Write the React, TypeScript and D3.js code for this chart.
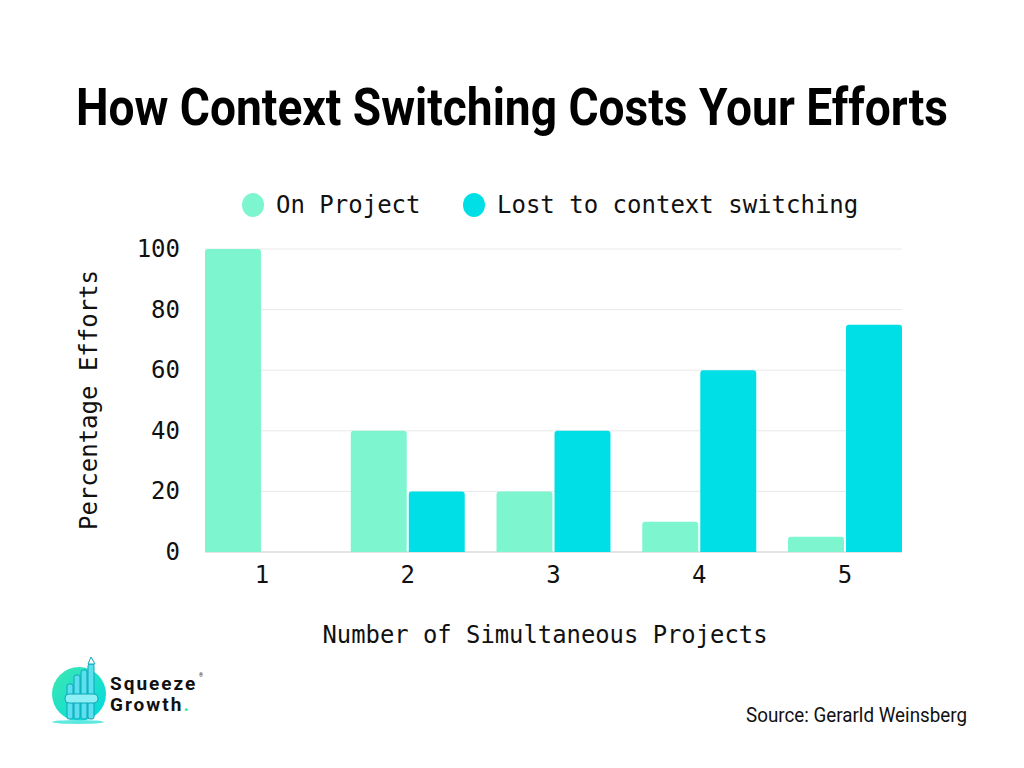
import React, { useLayoutEffect, useRef, useState } from "react";
import * as d3 from "d3";

const categories = ["1", "2", "3", "4", "5"];
const onProject = [100, 40, 20, 10, 5];
const lostToSwitching = [0, 20, 40, 60, 75];
const seriesNames = ["On Project", "Lost to context switching"];
const yTicks = [0, 20, 40, 60, 80, 100];

const GREEN = "#7df5cf";
const CYAN = "#00dfe5";
const MONO = "'DejaVu Sans Mono', 'Liberation Mono', monospace";
const SANS = "Roboto, 'Noto Sans', sans-serif";
const TITLE = "How Context Switching Costs Your Efforts";
const TITLE_WIDTH = 872;

function topRoundedRect(x: number, y: number, w: number, h: number, r: number) {
  if (h <= 0) return "";
  const rr = Math.min(r, h, w / 2);
  const p = d3.path();
  p.moveTo(x, y + h);
  p.lineTo(x, y + rr);
  p.arcTo(x, y, x + rr, y, rr);
  p.lineTo(x + w - rr, y);
  p.arcTo(x + w, y, x + w, y + rr, rr);
  p.lineTo(x + w, y + h);
  p.closePath();
  return p.toString();
}

export default function App() {
  const width = 1024;
  const height = 768;
  const left = 205;
  const right = 902;
  const top = 249;
  const bottom = 552;

  // Condense the title horizontally so it spans a fixed width
  const titleRef = useRef<SVGTextElement>(null);
  const [titleScale, setTitleScale] = useState(0.85);
  useLayoutEffect(() => {
    if (titleRef.current) {
      const w = titleRef.current.getComputedTextLength();
      if (w > 0) setTitleScale(TITLE_WIDTH / w);
    }
  }, []);

  const x0 = d3.scaleBand<string>().domain(categories).range([left, right]).paddingInner(0.218).paddingOuter(0);
  const x1 = d3.scaleBand<number>().domain([0, 1]).range([0, x0.bandwidth()]).paddingInner(0.035);
  const y = d3.scaleLinear().domain([0, 100]).range([bottom, top]);

  const series = [onProject, lostToSwitching];
  const colors = [GREEN, CYAN];

  return (
    <div style={{ margin: -8 }}>
      <svg width={width} height={height} style={{ display: "block", background: "#fff" }}>
        <defs>
          <linearGradient id="logoGrad" x1="0" y1="0" x2="1" y2="1">
            <stop offset="0%" stopColor="#3ee8b0" />
            <stop offset="100%" stopColor="#00d9e0" />
          </linearGradient>
        </defs>

        <g transform={`translate(512,125) scale(${titleScale},1)`}>
          <text
            ref={titleRef}
            x={0}
            y={0}
            textAnchor="middle"
            fontFamily={SANS}
            fontWeight={700}
            fontSize={52}
            fill="#000"
          >
            {TITLE}
          </text>
        </g>

        {/* legend */}
        {seriesNames.map((name, i) => {
          const cx = i === 0 ? 253 : 474;
          return (
            <g key={name}>
              <ellipse cx={cx} cy={205} rx={11} ry={12} fill={colors[i]} />
              <text x={cx + 23} y={213} fontFamily={MONO} fontSize={24} fill="#111">
                {name}
              </text>
            </g>
          );
        })}

        {/* gridlines */}
        {yTicks.map((t) => (
          <line
            key={t}
            x1={left}
            x2={right}
            y1={y(t)}
            y2={y(t)}
            stroke={t === 0 ? "#c8c8c8" : "#e8e8e8"}
            strokeWidth={1}
          />
        ))}

        {/* y tick labels */}
        {yTicks.map((t) => (
          <text
            key={"l" + t}
            x={180}
            y={y(t) + 8}
            textAnchor="end"
            fontFamily={MONO}
            fontSize={24}
            fill="#111"
          >
            {t}
          </text>
        ))}

        {/* bars */}
        {categories.map((c, ci) => (
          <g key={c}>
            {series.map((s, si) => {
              const bx = (x0(c) ?? 0) + (x1(si) ?? 0);
              const bw = x1.bandwidth();
              const by = y(s[ci]);
              return <path key={si} d={topRoundedRect(bx, by, bw, bottom - by, 3)} fill={colors[si]} />;
            })}
          </g>
        ))}

        {/* x tick labels */}
        {categories.map((c) => (
          <text
            key={"x" + c}
            x={(x0(c) ?? 0) + x0.bandwidth() / 2}
            y={583}
            textAnchor="middle"
            fontFamily={MONO}
            fontSize={24}
            fill="#111"
          >
            {c}
          </text>
        ))}

        {/* axis titles */}
        <text
          x={545}
          y={643}
          textAnchor="middle"
          fontFamily={MONO}
          fontSize={24}
          textLength={445}
          lengthAdjust="spacingAndGlyphs"
          fill="#111"
        >
          Number of Simultaneous Projects
        </text>
        <text
          transform={`translate(97, ${400}) rotate(-90)`}
          textAnchor="middle"
          fontFamily={MONO}
          fontSize={24}
          fill="#111"
        >
          Percentage Efforts
        </text>

        {/* source */}
        <text
          x={967}
          y={722}
          textAnchor="end"
          fontFamily={SANS}
          fontSize={21}
          textLength={221}
          lengthAdjust="spacingAndGlyphs"
          fill="#111"
        >
          Source: Gerarld Weinsberg
        </text>

        {/* brand mark */}
        <g>
          <circle cx={79} cy={694} r={27} fill="url(#logoGrad)" />
          <ellipse cx={78} cy={722} rx={26} ry={2} fill="#5ee8e0" />
          <g fill="#5ce0f0" stroke="#0aa8b8" strokeWidth={1}>
            <rect x={67} y={684} width={6} height={35} rx={2} />
            <rect x={74} y={675} width={6} height={44} rx={2} />
            <rect x={81} y={670} width={6} height={49} rx={2} />
            <rect x={88} y={664} width={6} height={55} rx={2} />
            <rect x={65} y={694} width={33} height={9} rx={4} fill="#8ef0f5" />
          </g>
          <path d="M88 664 L91 657 L95 664 Z" fill="#fff" stroke="#0aa8b8" strokeWidth={1} />
          <text x={110} y={690} fontFamily={SANS} fontWeight={700} fontSize={19} fill="#111" letterSpacing={2}>
            Squeeze
          </text>
          <text x={199} y={677} fontFamily={SANS} fontSize={5} fill="#111">®</text>
          <text x={110} y={711} fontFamily={SANS} fontWeight={700} fontSize={19} fill="#111" letterSpacing={2}>
            Growth<tspan fill="#2ee6a0">.</tspan>
          </text>
        </g>
      </svg>
    </div>
  );
}
